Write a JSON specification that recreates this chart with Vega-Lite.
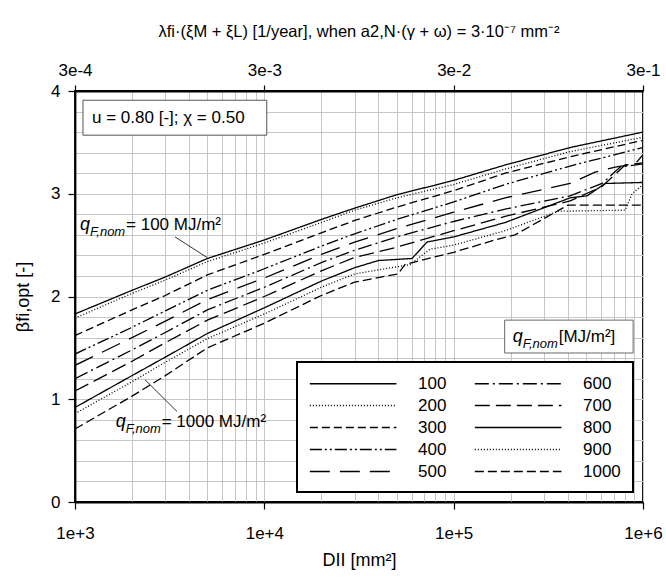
{
  "$schema": "https://vega.github.io/schema/vega-lite/v6.json",
  "width": 568,
  "height": 411,
  "autosize": {"type": "none"},
  "padding": {"left": 75, "top": 91, "right": 23, "bottom": 79},
  "background": "white",
  "config": {
    "font": "Liberation Sans",
    "view": {"stroke": "black", "strokeWidth": 1.8},
    "axis": {"labelFont": "Liberation Sans", "labelFontSize": 17, "labelColor": "black", "domainColor": "black", "domainWidth": 1.8, "tickColor": "black", "tickWidth": 1.2, "gridColor": "#c6c6c6", "gridWidth": 1, "titleFont": "Liberation Sans", "titleFontSize": 18, "titleFontWeight": "normal", "titleColor": "black"}
  },
  "title": {"text": "λfi·(ξM + ξL) [1/year], when a2,N·(γ + ω) = 3·10⁻⁷ mm⁻²", "fontSize": 16.5, "fontWeight": "normal", "font": "Liberation Sans", "color": "black", "offset": 21},
  "datasets": {
    "curves": [
      {"q":"100","x":1000,"y":1.83},{"q":"100","x":2000,"y":2.06},{"q":"100","x":3000,"y":2.19},{"q":"100","x":5000,"y":2.37},{"q":"100","x":10000,"y":2.55},{"q":"100","x":20000,"y":2.75},{"q":"100","x":30000,"y":2.86},{"q":"100","x":50000,"y":2.99},{"q":"100","x":100000,"y":3.13},{"q":"100","x":187000,"y":3.28},{"q":"100","x":412000,"y":3.45},{"q":"100","x":1000000,"y":3.60},
      {"q":"200","x":1000,"y":1.79},{"q":"200","x":2000,"y":2.03},{"q":"200","x":3000,"y":2.16},{"q":"200","x":5000,"y":2.34},{"q":"200","x":10000,"y":2.52},{"q":"200","x":20000,"y":2.72},{"q":"200","x":30000,"y":2.84},{"q":"200","x":50000,"y":2.96},{"q":"200","x":100000,"y":3.09},{"q":"200","x":187000,"y":3.24},{"q":"200","x":412000,"y":3.41},{"q":"200","x":1000000,"y":3.55},
      {"q":"300","x":1000,"y":1.62},{"q":"300","x":2000,"y":1.87},{"q":"300","x":3000,"y":2.01},{"q":"300","x":5000,"y":2.21},{"q":"300","x":10000,"y":2.41},{"q":"300","x":20000,"y":2.62},{"q":"300","x":30000,"y":2.74},{"q":"300","x":50000,"y":2.87},{"q":"300","x":100000,"y":3.03},{"q":"300","x":187000,"y":3.20},{"q":"300","x":412000,"y":3.36},{"q":"300","x":1000000,"y":3.52},
      {"q":"400","x":1000,"y":1.44},{"q":"400","x":2000,"y":1.70},{"q":"400","x":3000,"y":1.86},{"q":"400","x":5000,"y":2.06},{"q":"400","x":10000,"y":2.27},{"q":"400","x":20000,"y":2.49},{"q":"400","x":30000,"y":2.61},{"q":"400","x":50000,"y":2.75},{"q":"400","x":100000,"y":2.92},{"q":"400","x":187000,"y":3.09},{"q":"400","x":412000,"y":3.27},{"q":"400","x":1000000,"y":3.45},
      {"q":"500","x":1000,"y":1.33},{"q":"500","x":2000,"y":1.60},{"q":"500","x":3000,"y":1.76},{"q":"500","x":5000,"y":1.97},{"q":"500","x":10000,"y":2.18},{"q":"500","x":20000,"y":2.41},{"q":"500","x":30000,"y":2.53},{"q":"500","x":50000,"y":2.66},{"q":"500","x":100000,"y":2.82},{"q":"500","x":187000,"y":2.96},{"q":"500","x":412000,"y":3.10},{"q":"500","x":558000,"y":3.21},{"q":"500","x":713000,"y":3.26},{"q":"500","x":908000,"y":3.29},{"q":"500","x":1000000,"y":3.38},
      {"q":"600","x":1000,"y":1.20},{"q":"600","x":2000,"y":1.48},{"q":"600","x":3000,"y":1.65},{"q":"600","x":5000,"y":1.87},{"q":"600","x":10000,"y":2.09},{"q":"600","x":20000,"y":2.33},{"q":"600","x":30000,"y":2.45},{"q":"600","x":50000,"y":2.58},{"q":"600","x":100000,"y":2.73},{"q":"600","x":187000,"y":2.85},{"q":"600","x":412000,"y":2.98},{"q":"600","x":608000,"y":3.10},{"q":"600","x":757000,"y":3.26},{"q":"600","x":1000000,"y":3.29},
      {"q":"700","x":1000,"y":1.08},{"q":"700","x":2000,"y":1.37},{"q":"700","x":3000,"y":1.55},{"q":"700","x":5000,"y":1.77},{"q":"700","x":10000,"y":2.00},{"q":"700","x":20000,"y":2.25},{"q":"700","x":30000,"y":2.38},{"q":"700","x":50000,"y":2.48},{"q":"700","x":100000,"y":2.64},{"q":"700","x":187000,"y":2.78},{"q":"700","x":412000,"y":2.93},{"q":"700","x":608000,"y":3.07},{"q":"700","x":805000,"y":3.28},{"q":"700","x":1000000,"y":3.30},
      {"q":"800","x":1000,"y":0.92},{"q":"800","x":2000,"y":1.23},{"q":"800","x":3000,"y":1.41},{"q":"800","x":5000,"y":1.64},{"q":"800","x":10000,"y":1.89},{"q":"800","x":20000,"y":2.15},{"q":"800","x":30000,"y":2.28},{"q":"800","x":40000,"y":2.35},{"q":"800","x":60300,"y":2.37},{"q":"800","x":72300,"y":2.53},{"q":"800","x":100000,"y":2.58},{"q":"800","x":187000,"y":2.72},{"q":"800","x":412000,"y":2.96},{"q":"800","x":507000,"y":2.98},{"q":"800","x":631000,"y":3.10},{"q":"800","x":1000000,"y":3.11},
      {"q":"900","x":1000,"y":0.86},{"q":"900","x":2000,"y":1.17},{"q":"900","x":3000,"y":1.36},{"q":"900","x":5000,"y":1.59},{"q":"900","x":10000,"y":1.83},{"q":"900","x":20000,"y":2.09},{"q":"900","x":30000,"y":2.22},{"q":"900","x":58800,"y":2.31},{"q":"900","x":75000,"y":2.46},{"q":"900","x":100000,"y":2.50},{"q":"900","x":187000,"y":2.64},{"q":"900","x":356000,"y":2.83},{"q":"900","x":805000,"y":2.84},{"q":"900","x":875000,"y":3.00},{"q":"900","x":1000000,"y":3.09},
      {"q":"1000","x":1000,"y":0.71},{"q":"1000","x":2000,"y":1.03},{"q":"1000","x":3000,"y":1.23},{"q":"1000","x":5000,"y":1.50},{"q":"1000","x":10000,"y":1.74},{"q":"1000","x":20000,"y":2.01},{"q":"1000","x":30000,"y":2.14},{"q":"1000","x":50800,"y":2.22},{"q":"1000","x":55300,"y":2.31},{"q":"1000","x":76900,"y":2.38},{"q":"1000","x":100000,"y":2.43},{"q":"1000","x":165000,"y":2.55},{"q":"1000","x":211000,"y":2.60},{"q":"1000","x":402000,"y":2.89},{"q":"1000","x":1000000,"y":2.89}
    ],
    "boxes": [
      {"name":"params","x1":1102,"x2":10300,"y1":3.57,"y2":3.91,"stroke":"#555555"},
      {"name":"legtitle","x1":186000,"x2":887000,"y1":1.45,"y2":1.77,"stroke":"#666666"}
    ],
    "params": [
      {"text":"u = 0.80 [-]; χ = 0.50","x":1230,"y":3.74}
    ],
    "qlabels": [
      {"x":1063,"y":2.70,"rest":"\u00a0= 100 MJ/m²"},
      {"x":1640,"y":0.78,"rest":"\u00a0= 1000 MJ/m²"},
      {"x":205000,"y":1.61,"rest":"\u00a0[MJ/m²]"}
    ],
    "leaders": [
      {"x1":3375,"y1":2.58,"x2":4980,"y2":2.38},
      {"x1":2343,"y1":1.19,"x2":3460,"y2":0.88}
    ]
  },
  "resolve": {"axis": {"x": "independent", "y": "independent"}},
  "layer": [
    {
      "data": {"name": "curves"},
      "mark": {"type": "line", "color": "black", "strokeWidth": 1.3, "clip": true},
      "encoding": {
        "x": {"field": "x", "type": "quantitative", "scale": {"type": "log", "domain": [1000, 1000000], "nice": false},
          "axis": {"orient": "bottom", "title": "DII [mm²]", "titleFontSize": 18, "titlePadding": 10,
            "values": [1000,2000,3000,4000,5000,6000,7000,8000,9000,10000,20000,30000,40000,50000,60000,70000,80000,90000,100000,200000,300000,400000,500000,600000,700000,800000,900000,1000000],
            "grid": true, "labelOverlap": false, "labelFlush": false, "tickSize": 7, "labelPadding": 16,
            "labelExpr": "datum.value == 1000 ? '1e+3' : datum.value == 10000 ? '1e+4' : datum.value == 100000 ? '1e+5' : datum.value == 1000000 ? '1e+6' : ''",
            "tickOpacity": {"condition": {"test": "datum.value == 1000 || datum.value == 10000 || datum.value == 100000 || datum.value == 1000000", "value": 1}, "value": 0}}},
        "y": {"field": "y", "type": "quantitative", "scale": {"domain": [0, 4], "nice": false},
          "axis": {"orient": "left", "title": "βfi,opt [-]", "titleFontSize": 18, "titlePadding": 18,
            "values": [0,0.2,0.4,0.6,0.8,1,1.2,1.4,1.6,1.8,2,2.2,2.4,2.6,2.8,3,3.2,3.4,3.6,3.8,4],
            "grid": true, "labelOverlap": false, "labelFlush": false, "tickSize": 7, "labelPadding": 8,
            "labelExpr": "abs(datum.value - round(datum.value)) < 0.001 ? format(datum.value, 'd') : ''",
            "tickOpacity": {"condition": {"test": "abs(datum.value - round(datum.value)) < 0.001", "value": 1}, "value": 0}}},
        "strokeDash": {"field": "q", "type": "nominal",
          "scale": {"domain": ["100","200","300","400","500","600","700","800","900","1000"],
            "range": [[1,0],[1,2],[8,4],[12,3,2,3,2,3],[20,10],[14,4,2,4],[15,6],[1,0],[1,2],[9,4]]},
          "legend": {"title": null, "orient": "bottom-right", "offset": 10, "columns": 2, "symbolType": "M-1,0H9", "symbolSize": 300, "symbolStrokeWidth": 1.3, "symbolStrokeColor": "black", "symbolFillColor": "transparent", "labelFontSize": 17, "labelFont": "Liberation Sans", "labelColor": "black", "labelOffset": 90, "columnPadding": 25, "rowPadding": 4, "padding": 12, "fillColor": "white", "strokeColor": "black",
            "encode": {"legend": {"update": {"strokeWidth": {"value": 2}}}}}}
      }
    },
    {
      "data": {"name": "curves"},
      "mark": {"type": "point", "opacity": 0},
      "encoding": {
        "x": {"field": "x", "type": "quantitative",
          "axis": {"orient": "top", "title": null, "values": [1000, 10000, 100000, 1000000], "grid": false, "tickSize": 6, "labelPadding": 6, "labelFlush": false,
            "labelExpr": "datum.value == 1000 ? '3e-4' : datum.value == 10000 ? '3e-3' : datum.value == 100000 ? '3e-2' : '3e-1'"}},
        "y": {"field": "y", "type": "quantitative", "axis": null}
      }
    },
    {
      "data": {"name": "boxes"},
      "mark": {"type": "rect", "fill": "white", "strokeWidth": 1},
      "encoding": {
        "x": {"field": "x1", "type": "quantitative", "axis": null},
        "x2": {"field": "x2"},
        "y": {"field": "y1", "type": "quantitative", "axis": null},
        "y2": {"field": "y2"},
        "stroke": {"field": "stroke", "type": "nominal", "scale": null}
      }
    },
    {
      "data": {"name": "leaders"},
      "mark": {"type": "rule", "color": "black", "strokeWidth": 0.8},
      "encoding": {
        "x": {"field": "x1", "type": "quantitative", "axis": null},
        "x2": {"field": "x2"},
        "y": {"field": "y1", "type": "quantitative", "axis": null},
        "y2": {"field": "y2"}
      }
    },
    {
      "data": {"name": "params"},
      "mark": {"type": "text", "fontSize": 17, "font": "Liberation Sans", "color": "black", "baseline": "middle", "align": "left"},
      "encoding": {
        "x": {"field": "x", "type": "quantitative", "axis": null},
        "y": {"field": "y", "type": "quantitative", "axis": null},
        "text": {"field": "text"}
      }
    },
    {
      "data": {"name": "qlabels"},
      "mark": {"type": "text", "fontSize": 18, "font": "Liberation Sans", "fontStyle": "italic", "color": "black", "baseline": "middle", "align": "left"},
      "encoding": {
        "x": {"field": "x", "type": "quantitative", "axis": null},
        "y": {"field": "y", "type": "quantitative", "axis": null},
        "text": {"value": "q"}
      }
    },
    {
      "data": {"name": "qlabels"},
      "mark": {"type": "text", "fontSize": 13, "font": "Liberation Sans", "fontStyle": "italic", "color": "black", "baseline": "middle", "align": "left", "dx": 10, "dy": 7},
      "encoding": {
        "x": {"field": "x", "type": "quantitative", "axis": null},
        "y": {"field": "y", "type": "quantitative", "axis": null},
        "text": {"value": "F,nom"}
      }
    },
    {
      "data": {"name": "qlabels"},
      "mark": {"type": "text", "fontSize": 17, "font": "Liberation Sans", "color": "black", "baseline": "middle", "align": "left", "dx": 46},
      "encoding": {
        "x": {"field": "x", "type": "quantitative", "axis": null},
        "y": {"field": "y", "type": "quantitative", "axis": null},
        "text": {"field": "rest"}
      }
    }
  ]
}
